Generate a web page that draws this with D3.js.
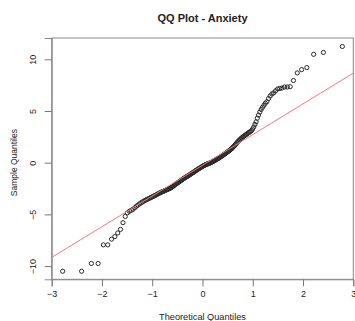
<!DOCTYPE html>
<html><head><meta charset="utf-8">
<script src="https://cdn.jsdelivr.net/npm/d3@7"></script>
<style>body{margin:0;background:#fff} svg{display:block} text{font-family:"Liberation Sans",Arial,sans-serif;fill:#222}</style>
</head><body><svg id="c" width="355" height="321"></svg>
<script>
const theoretical = [
-2.782,-2.405,-2.211,-2.076,-1.972,-1.885,-1.810,-1.744,-1.686,-1.632,
-1.582,-1.537,-1.494,-1.454,-1.416,-1.380,-1.346,-1.313,-1.282,-1.251,
-1.222,-1.194,-1.167,-1.141,-1.115,-1.090,-1.066,-1.043,-1.020,-0.997,
-0.975,-0.953,-0.932,-0.911,-0.891,-0.871,-0.851,-0.832,-0.813,-0.794,
-0.776,-0.757,-0.740,-0.722,-0.704,-0.687,-0.670,-0.653,-0.637,-0.620,
-0.604,-0.588,-0.572,-0.556,-0.540,-0.524,-0.509,-0.494,-0.478,-0.463,
-0.448,-0.433,-0.419,-0.404,-0.389,-0.375,-0.360,-0.346,-0.331,-0.317,
-0.303,-0.289,-0.275,-0.261,-0.247,-0.233,-0.219,-0.205,-0.191,-0.178,
-0.164,-0.150,-0.136,-0.122,-0.109,-0.095,-0.081,-0.068,-0.054,-0.041,
-0.027,-0.014,
0,
0.014,0.027,0.041,0.054,0.068,0.081,0.095,0.109,0.122,0.136,
0.150,0.164,0.178,0.191,0.205,0.219,0.233,0.247,0.261,0.275,
0.289,0.303,0.317,0.331,0.346,0.360,0.375,0.389,0.404,0.419,
0.433,0.448,0.463,0.478,0.494,0.509,0.524,0.540,0.556,0.572,
0.588,0.604,0.620,0.637,0.653,0.670,0.687,0.704,0.722,0.740,
0.757,0.776,0.794,0.813,0.832,0.851,0.871,0.891,0.911,0.932,
0.953,0.975,0.997,1.020,1.043,1.066,1.090,1.115,1.141,1.167,
1.194,1.222,1.251,1.282,1.313,1.346,1.380,1.416,1.454,1.494,
1.537,1.582,1.632,1.686,1.744,1.810,1.885,1.972,2.076,2.211,
2.405,2.782];

const sample = [
-10.5,-10.5,-9.75,-9.75,-7.95,-7.95,-7.4,-7.15,-6.8,-6.45,-5.8,-5.2,
-4.85,-4.7,-4.6,-4.5,-4.35,-4.2,-4.1,-3.98,-3.88,-3.8,
-3.72,-3.65,-3.58,-3.52,-3.47,-3.41,-3.35,-3.3,-3.25,-3.19,
-3.14,-3.09,-3.03,-2.98,-2.93,-2.88,-2.84,-2.8,-2.76,-2.72,
-2.68,-2.64,-2.6,-2.57,-2.53,-2.49,-2.45,-2.4,-2.35,-2.29,
-2.23,-2.17,-2.11,-2.05,-2.0,-1.95,-1.9,-1.85,-1.79,-1.74,
-1.69,-1.64,-1.58,-1.54,-1.49,-1.45,-1.4,-1.36,-1.32,-1.27,
-1.23,-1.19,-1.15,-1.1,-1.05,-1.01,-0.96,-0.92,-0.87,-0.83,
-0.78,-0.73,-0.69,-0.65,-0.6,-0.56,-0.52,-0.48,-0.44,-0.4,
-0.36,
-0.32,-0.28,-0.25,-0.22,-0.19,-0.16,-0.13,-0.1,-0.08,-0.05,
-0.03,0.0,0.04,0.07,0.11,0.15,0.19,0.23,0.27,0.31,
0.35,0.39,0.43,0.47,0.52,0.56,0.61,0.66,0.71,0.76,
0.81,0.86,0.92,0.97,1.03,1.08,1.14,1.2,1.26,1.33,
1.4,1.48,1.56,1.65,1.74,1.84,1.94,2.04,2.13,2.22,
2.3,2.38,2.46,2.53,2.6,2.67,2.74,2.81,2.88,2.95,
3.02,
3.1,3.25,3.45,3.7,3.95,4.3,4.6,4.9,5.15,5.35,5.55,5.75,5.9,6.2,6.45,
6.65,6.75,6.95,7.13,7.18,7.22,7.32,7.32,7.35,7.95,8.68,9.0,9.2,10.48,10.66,11.24];

const xTicks = [-3,-2,-1,0,1,2,3];
const yTicks = [-10,-5,0,5,10];
const lineIntercept = -0.25;
const lineSlope = 2.97;
const titleText = "QQ Plot - Anxiety";
const xLabel = "Theoretical Quantiles";
const yLabel = "Sample Quantiles";

const svg = d3.select("#c");
const L = 51.7, R = 353.3, T = 38, B = 279.3;
const x = d3.scaleLinear().domain([-3, 3]).range([L, R]);
const y = d3.scaleLinear().domain([-11.28, 12.06]).range([B, T]);

// box
svg.append("rect").attr("x", L).attr("y", T).attr("width", R - L).attr("height", B - T)
  .attr("fill", "none").attr("stroke", "#888").attr("stroke-width", 1);

// axes
const xa = svg.append("g").attr("transform", `translate(0,${B})`)
  .call(d3.axisBottom(x).tickValues(xTicks).tickSize(7).tickPadding(4).tickFormat(d3.format("d")));
const ya = svg.append("g").attr("transform", `translate(${L},0)`)
  .call(d3.axisLeft(y).tickValues(yTicks).tickSize(7).tickFormat(d3.format("d")));
[xa, ya].forEach(g => {
  g.select(".domain").attr("stroke", "#888");
  g.selectAll(".tick line").attr("stroke", "#777");
  g.selectAll("text").attr("font-size", 9).attr("fill", "#333").style("font-family", '"Liberation Sans",Arial,sans-serif');
});
ya.selectAll(".tick text").attr("x", null).attr("dy", null)
  .attr("text-anchor", "middle")
  .attr("transform", "translate(-16,0) rotate(-90)");

// clip
svg.append("clipPath").attr("id", "clp").append("rect")
  .attr("x", L).attr("y", T).attr("width", R - L).attr("height", B - T);

// points
svg.append("g").selectAll("circle").data(sample).join("circle")
  .attr("cx", (d, i) => x(theoretical[i])).attr("cy", d => y(d)).attr("r", 2.1)
  .attr("fill", "none").attr("stroke", "#2a2a2a").attr("stroke-width", 1);

// reference line (drawn over the points)
const xd = x.domain();
svg.append("line").attr("clip-path", "url(#clp)")
  .attr("x1", x(xd[0])).attr("y1", y(lineIntercept + lineSlope * xd[0]))
  .attr("x2", x(xd[1])).attr("y2", y(lineIntercept + lineSlope * xd[1]))
  .attr("stroke", "#f07a7a").attr("stroke-width", 1);

// titles
svg.append("text").attr("x", 202.5).attr("y", 22).attr("text-anchor", "middle")
  .attr("font-size", 11).attr("font-weight", "bold").attr("fill", "#111").text(titleText);
svg.append("text").attr("x", 202.5).attr("y", 320).attr("text-anchor", "middle")
  .attr("font-size", 9.2).attr("fill", "#333").text(xLabel);
svg.append("text").attr("transform", `translate(16.5,${(T + B) / 2 + 4}) rotate(-90)`).attr("text-anchor", "middle")
  .attr("font-size", 8.5).attr("fill", "#333").text(yLabel);
</script></body></html>
